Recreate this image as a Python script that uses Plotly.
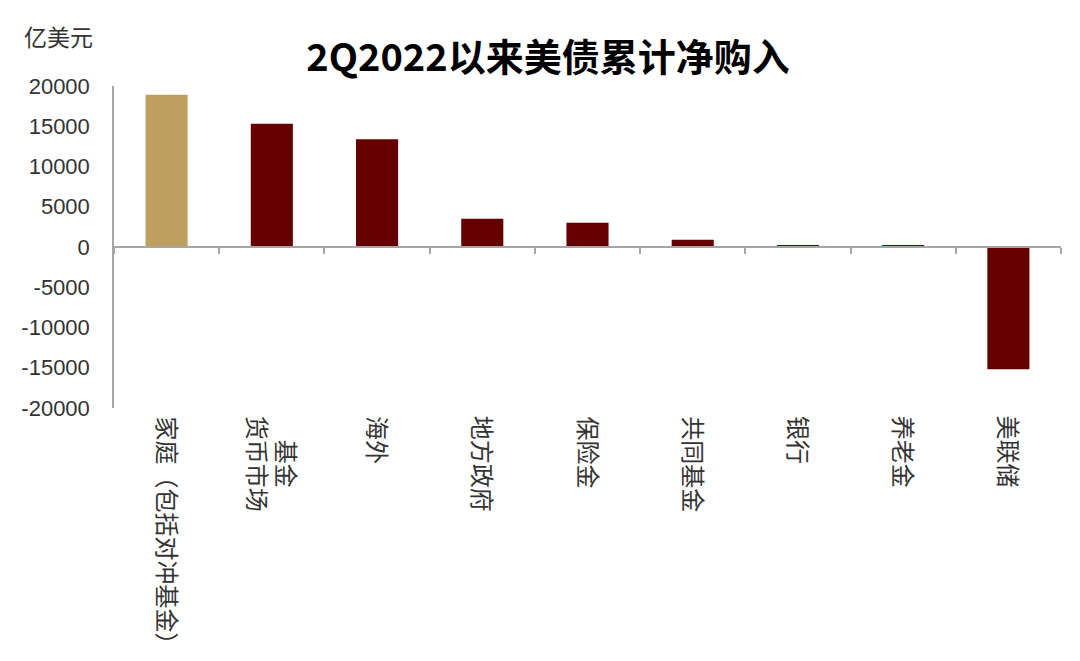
import plotly.graph_objects as go

# Data (亿美元)
categories = ['家庭（包括对冲基金）', '货币市场基金', '海外', '地方政府', '保险金',
              '共同基金', '银行', '养老金', '美联储']
category_lines = [['家庭（包括对冲基金）'], ['货币市场', '基金'], ['海外'], ['地方政府'],
                  ['保险金'], ['共同基金'], ['银行'], ['养老金'], ['美联储']]
net_purchase = [18900, 15300, 13400, 3500, 3000, 900, 200, 200, -15200]
bar_colors = ['#BF9F5F'] + ['#650000'] * 8
y_ticks = [20000, 15000, 10000, 5000, 0, -5000, -10000, -15000, -20000]
y_tick_text = [str(v) for v in y_ticks]

font_main = 'Liberation Sans, Noto Sans CJK SC, sans-serif'
axis_gray = '#a6a6a6'
label_size = 24

fig = go.Figure()

# Bars
fig.add_trace(go.Bar(x=categories, y=net_purchase, marker_color=bar_colors,
                     marker_line_width=0, width=0.4, hoverinfo='x+y'))

# Invisible trace so the zero-line axis (x2) is drawn
fig.add_trace(go.Scatter(x=categories, y=[0] * len(categories), mode='none',
                         xaxis='x2', hoverinfo='skip', showlegend=False))

# Vertical category labels (rotated text, extra lines go to the right, centred)
annotations = []
for cat, lines in zip(categories, category_lines):
    longest = max(len(s) for s in lines)
    for i, line in enumerate(lines):
        annotations.append(dict(
            text=line, x=cat, y=-20000, xref='x', yref='y',
            xanchor='center', yanchor='top', textangle=90, showarrow=False,
            xshift=(i - (len(lines) - 1) / 2) * 29,
            yshift=-6 - (longest - len(line)) * label_size / 2,
            font=dict(family=font_main, size=label_size, color='#333333')))

annotations.append(dict(text='亿美元', xref='paper', yref='paper', x=-0.02, y=1.149,
                        xanchor='right', yanchor='middle', showarrow=False,
                        font=dict(family=font_main, size=23, color='#333333')))

# page body adds an 8px offset, so margins are shifted to compensate
fig.update_layout(
    width=1080, height=661,
    margin=dict(l=106, r=27, t=78, b=261, autoexpand=False),
    paper_bgcolor='white', plot_bgcolor='white',
    showlegend=False,
    title=dict(text='<b>2Q2022以来美债累计净购入</b>', x=0.5, y=0.925,
               xanchor='center', yanchor='middle',
               font=dict(family='Noto Sans CJK SC', size=38, color='#000000')),
    xaxis=dict(type='category', range=[-0.5, 8.5], showline=False, ticks='',
               showgrid=False, showticklabels=False, automargin=False),
    xaxis2=dict(type='category', range=[-0.5, 8.5], overlaying='x', anchor='free',
                position=0.5, showline=True, linecolor=axis_gray, linewidth=1.5,
                ticks='outside', tickson='boundaries', ticklen=6, tickwidth=1.5,
                tickcolor=axis_gray, showticklabels=False, showgrid=False,
                automargin=False),
    yaxis=dict(range=[-20000, 20000], tickvals=y_ticks, ticktext=y_tick_text,
               showline=True, linecolor=axis_gray, linewidth=1.5, ticks='',
               showgrid=False, zeroline=False, ticklabelstandoff=18, automargin=False,
               tickfont=dict(family=font_main, size=22, color='#333333')),
    annotations=annotations,
)

fig.write_html('out.html')
